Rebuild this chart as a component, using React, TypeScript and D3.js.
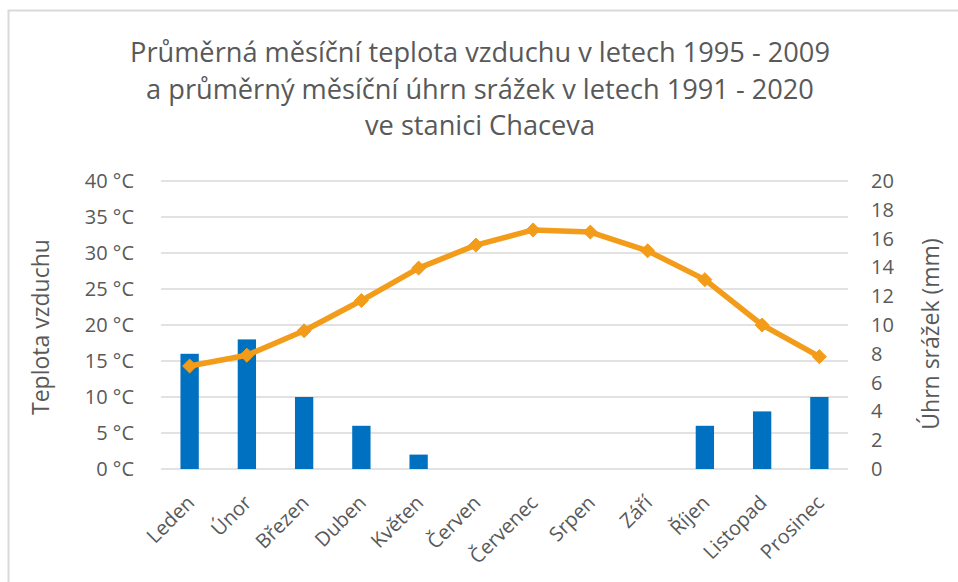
import React from 'react';
import * as d3 from 'd3';

// months on the x axis
const months = ['Leden', 'Únor', 'Březen', 'Duben', 'Květen', 'Červen', 'Červenec', 'Srpen', 'Září', 'Říjen', 'Listopad', 'Prosinec'];
// average monthly temperature (°C), left axis
const temperature = [14.3, 15.8, 19.2, 23.4, 27.9, 31.1, 33.2, 32.9, 30.3, 26.3, 20.0, 15.6];
// average monthly precipitation (mm), right axis
const precipitation = [8, 9, 5, 3, 1, 0, 0, 0, 0, 3, 4, 5];

const tempTicks = [0, 5, 10, 15, 20, 25, 30, 35, 40];
const rainTicks = [0, 2, 4, 6, 8, 10, 12, 14, 16, 18, 20];

const titleLines = [
  'Průměrná měsíční teplota vzduchu v letech 1995 - 2009',
  'a průměrný měsíční úhrn srážek v letech 1991 - 2020',
  've stanici Chaceva',
];

const W = 958;
const H = 582;
const plot = { left: 161, right: 848, top: 181, bottom: 469 };
const font = '"Open Sans", "DejaVu Sans", sans-serif';
const textColor = '#595959';

const App = () => {
  const x = d3.scaleBand<string>()
    .domain(months)
    .range([plot.left, plot.right])
    .paddingInner(0.68)
    .paddingOuter(0.34);

  const yTemp = d3.scaleLinear().domain([0, 40]).range([plot.bottom, plot.top]);
  const yRain = d3.scaleLinear().domain([0, 20]).range([plot.bottom, plot.top]);

  const cx = (m: string) => (x(m) ?? 0) + x.bandwidth() / 2;

  const line = d3.line<number>()
    .x((_, i) => cx(months[i]))
    .y(d => yTemp(d));

  const diamond = d3.symbol().type(d3.symbolDiamond2).size(125)();

  return (
    <svg width={W} height={H} style={{ position: 'absolute', left: 0, top: 0, display: 'block' }} fontFamily={font}>
      <rect x={0} y={0} width={W} height={H} fill="#fff" />
      <rect x={8.5} y={10.5} width={1100} height={700} fill="none" stroke="#d9d9d9" strokeWidth={2} />

      {titleLines.map((t, i) => (
        <text key={t} x={480} y={62 + i * 36.5} textAnchor="middle" fontSize={27.2} fill={textColor}>{t}</text>
      ))}

      {/* gridlines */}
      {tempTicks.map(t => (
        <line key={t} x1={plot.left} x2={plot.right} y1={yTemp(t)} y2={yTemp(t)} stroke="#d9d9d9" strokeWidth={1.5} />
      ))}

      {/* left ticks */}
      {tempTicks.map(t => (
        <text key={t} x={134} y={yTemp(t)} dy="0.35em" textAnchor="end" fontSize={20} fill={textColor}>{`${t} °C`}</text>
      ))}

      {/* right ticks */}
      {rainTicks.map(t => (
        <text key={t} x={871} y={yRain(t)} dy="0.35em" textAnchor="start" fontSize={20} fill={textColor}>{t}</text>
      ))}

      {/* axis titles */}
      <text transform="translate(49,327) rotate(-90)" textAnchor="middle" fontSize={23} fill={textColor}>Teplota vzduchu</text>
      <text transform="translate(939,334) rotate(-90)" textAnchor="middle" fontSize={23} fill={textColor}>Úhrn srážek (mm)</text>

      {/* bars */}
      {precipitation.map((v, i) => (
        <rect key={months[i]} x={x(months[i])} y={yRain(v)} width={x.bandwidth()} height={yRain(0) - yRain(v)} fill="#0070c0" />
      ))}

      {/* temperature line */}
      <path d={line(temperature) ?? ''} fill="none" stroke="#f29c1a" strokeWidth={5.5} strokeLinejoin="round" />
      {temperature.map((v, i) => (
        <path key={months[i]} d={diamond ?? ''} transform={`translate(${cx(months[i])},${yTemp(v)})`} fill="#f29c1a" stroke="#f29c1a" strokeWidth={1} />
      ))}

      {/* x labels */}
      {months.map(m => (
        <text key={m} transform={`translate(${cx(m) + 6},${plot.bottom + 35}) rotate(-45)`} textAnchor="end" fontSize={20} fill={textColor}>{m}</text>
      ))}
    </svg>
  );
};

export default App;
